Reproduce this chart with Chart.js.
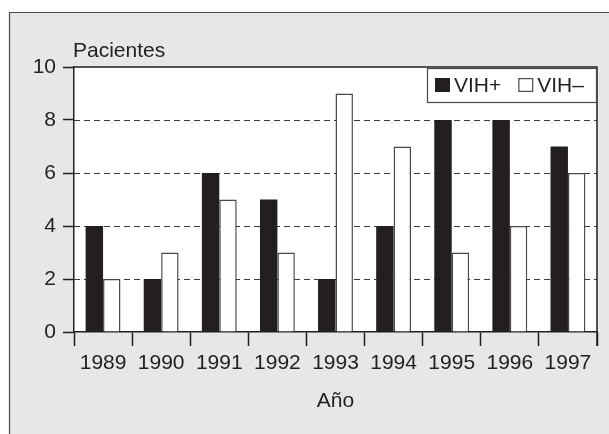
<!DOCTYPE html>
<html>
<head>
<meta charset="utf-8">
<script src="https://cdn.jsdelivr.net/npm/chart.js@4"></script>
<style>
html,body{margin:0;padding:0;background:#fff;}
#wrap{width:609px;height:434px;position:relative;}
</style>
</head>
<body>
<div id="wrap"><canvas id="c" width="609" height="434"></canvas></div>
<script>
const years = ['1989','1990','1991','1992','1993','1994','1995','1996','1997'];
const vihPos = [4, 2, 6, 5, 2, 4, 8, 8, 7];
const vihNeg = [2, 3, 5, 3, 9, 7, 3, 4, 6];
const yTicks = [0, 2, 4, 6, 8, 10];
const dashedLevels = [2, 4, 6, 8];
const seriesLabels = ['VIH+', 'VIH\u2013'];
const yTitle = 'Pacientes';
const xTitle = 'A\u00f1o';

const INK = '#231f20';
const LINE = '#3a3a3a';
const FONT = 'Liberation Sans, Arial, Helvetica, sans-serif';
const FS = 21;

const framePlugin = {
  id: 'frame',
  beforeDraw(chart) {
    const ctx = chart.ctx, a = chart.chartArea;
    ctx.save();
    ctx.fillStyle = '#ffffff';
    ctx.fillRect(0, 0, chart.width, chart.height);
    ctx.fillStyle = '#e6e7e9';
    ctx.fillRect(9, 12, chart.width - 9, chart.height - 12);
    ctx.strokeStyle = '#4a4a4a';
    ctx.lineWidth = 1.2;
    ctx.beginPath();
    ctx.moveTo(9.5, chart.height);
    ctx.lineTo(9.5, 12.5);
    ctx.lineTo(chart.width, 12.5);
    ctx.stroke();
    ctx.fillStyle = '#ffffff';
    ctx.fillRect(a.left, a.top, a.right - a.left, a.bottom - a.top);
    ctx.restore();
  },
  beforeDatasetsDraw(chart) {
    const ctx = chart.ctx, a = chart.chartArea, y = chart.scales.y;
    ctx.save();
    ctx.strokeStyle = LINE;
    ctx.lineWidth = 1;
    ctx.setLineDash([6, 4]);
    dashedLevels.forEach(v => {
      const py = Math.round(y.getPixelForValue(v)) + 0.5;
      ctx.beginPath();
      ctx.moveTo(a.left, py);
      ctx.lineTo(a.right, py);
      ctx.stroke();
    });
    ctx.restore();
  },
  afterDraw(chart) {
    const ctx = chart.ctx, a = chart.chartArea;
    ctx.save();
    ctx.strokeStyle = INK;
    ctx.lineWidth = 1.5;
    ctx.beginPath();
    ctx.moveTo(a.left, a.top);
    ctx.lineTo(a.right, a.top);
    ctx.lineTo(a.right, a.bottom + 14);
    ctx.stroke();
    // y title
    ctx.fillStyle = INK;
    ctx.font = FS + 'px ' + FONT;
    ctx.textAlign = 'left';
    ctx.textBaseline = 'alphabetic';
    ctx.fillText(yTitle, a.left - 1, a.top - 10);
    // legend box
    const bw = 170, bh = 35;
    const bx = a.right - bw, by = a.top + 1;
    ctx.fillStyle = '#ffffff';
    ctx.fillRect(bx, by, bw, bh);
    ctx.strokeStyle = '#4a4a4a';
    ctx.lineWidth = 1.2;
    ctx.strokeRect(bx + 0.5, by + 0.5, bw - 1, bh - 1);
    const ds = chart.data.datasets;
    let x = bx + 8;
    ds.forEach((d, i) => {
      ctx.fillStyle = d.backgroundColor;
      ctx.fillRect(x, by + 10, 15, 14);
      if (d.borderWidth) {
        ctx.strokeStyle = d.borderColor;
        ctx.lineWidth = 1.2;
        ctx.strokeRect(x + 0.6, by + 10.6, 13.8, 12.8);
      }
      ctx.fillStyle = INK;
      ctx.textBaseline = 'middle';
      ctx.fillText(d.label, x + 19, by + 18);
      x += 19 + ctx.measureText(d.label).width + 17;
    });
    ctx.restore();
  }
};

new Chart(document.getElementById('c'), {
  type: 'bar',
  data: {
    labels: years,
    datasets: [
      { label: seriesLabels[0], data: vihPos, backgroundColor: INK, borderWidth: 0 },
      { label: seriesLabels[1], data: vihNeg, backgroundColor: '#ffffff', borderColor: '#4a4a4a', borderWidth: 1.5 }
    ]
  },
  options: {
    responsive: false,
    animation: false,
    devicePixelRatio: 1,
    layout: { padding: { left: 0, right: 12, top: 67, bottom: 0 } },
    datasets: { bar: { categoryPercentage: 0.6, barPercentage: 1.0 } },
    plugins: { legend: { display: false }, tooltip: { enabled: false } },
    scales: {
      x: {
        afterFit(s) { s.height = 102; },
        grid: { offset: true, drawOnChartArea: false, drawTicks: true, tickLength: 14, tickColor: INK, tickWidth: 1.5 },
        border: { display: true, color: INK, width: 1.5 },
        ticks: { color: INK, font: { family: FONT, size: FS }, padding: 5, maxRotation: 0 },
        title: { display: true, text: xTitle, color: INK, font: { family: FONT, size: FS }, padding: { top: 0, bottom: 20 } }
      },
      y: {
        min: 0, max: 10,
        afterFit(s) { s.width = 74; },
        afterBuildTicks(s) { s.ticks = yTicks.map(v => ({ value: v })); },
        grid: { drawOnChartArea: false, drawTicks: true, tickLength: 11, tickColor: INK, tickWidth: 1.5 },
        border: { display: true, color: INK, width: 1.5 },
        ticks: { color: INK, font: { family: FONT, size: FS }, padding: 7 }
      }
    }
  },
  plugins: [framePlugin]
});
</script>
</body>
</html>
